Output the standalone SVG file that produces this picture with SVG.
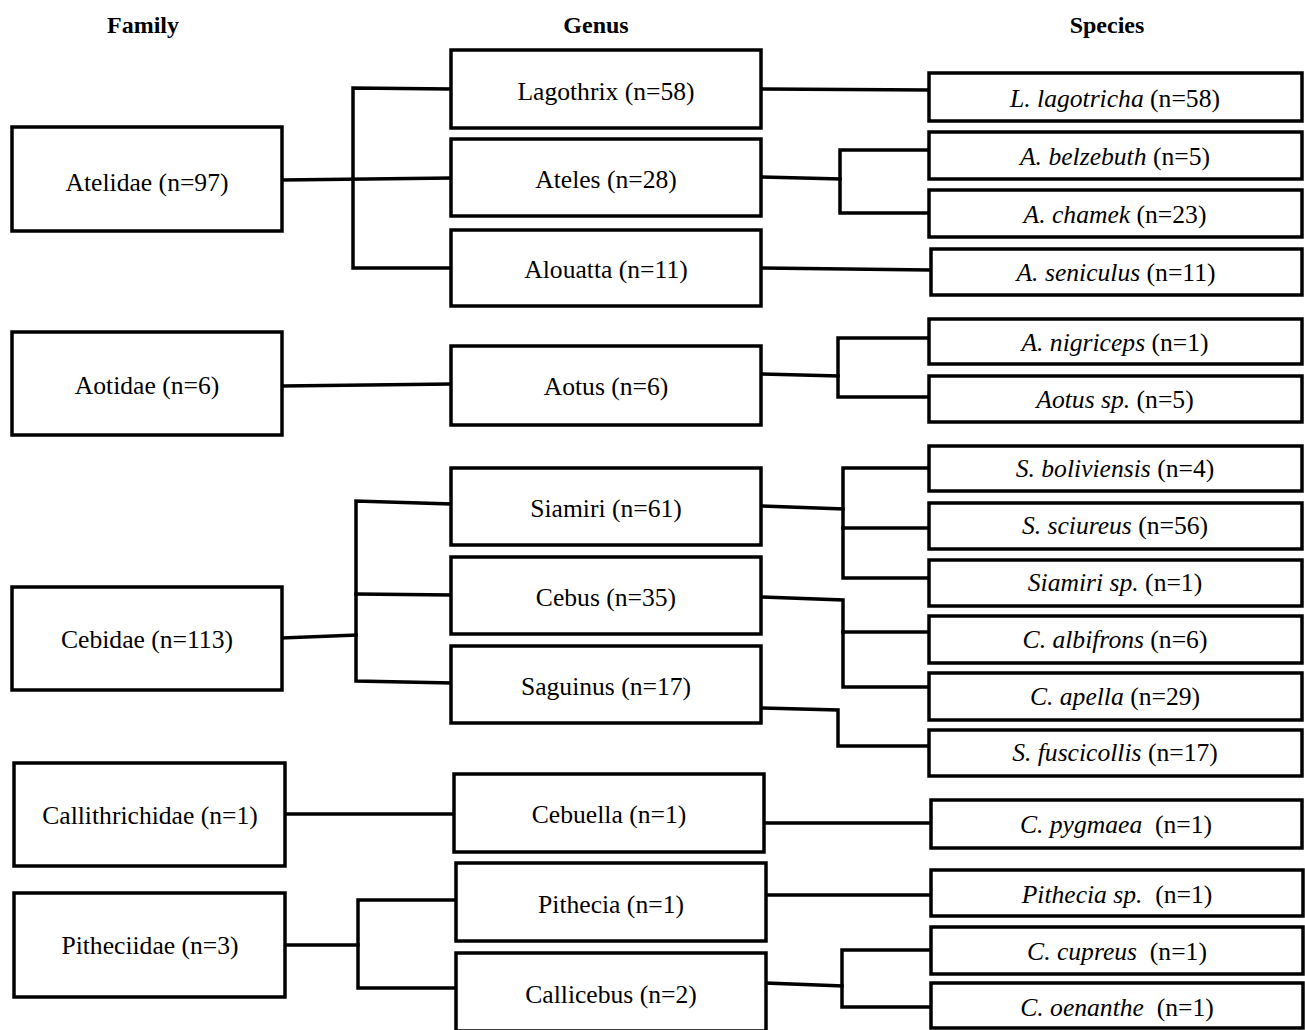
<svg xmlns="http://www.w3.org/2000/svg" width="1305" height="1030" viewBox="0 0 1305 1030">
<style>
.box{fill:#fff;stroke:#000;stroke-width:3.5}
.t{font-family:"Liberation Serif","Times New Roman",serif;font-size:25.6px;fill:#000;text-anchor:middle;white-space:pre}
.h{font-family:"Liberation Serif","Times New Roman",serif;font-size:24px;font-weight:bold;fill:#000;text-anchor:middle}
.i{font-style:italic}
.c{fill:none;stroke:#000;stroke-width:3.5;stroke-linejoin:miter;stroke-linecap:square}
</style>
<rect width="1305" height="1030" fill="#fff"/>
<g id="headers">
<text class="h" x="143" y="33">Family</text>
<text class="h" x="596" y="33">Genus</text>
<text class="h" x="1107" y="33">Species</text>
</g>
<g id="connectors">
<path class="c" d="M282,180 L451,178"/>
<path class="c" d="M451,89 L353,88 L353,268 L451,268"/>
<path class="c" d="M761,89 L929,90"/>
<path class="c" d="M761,177 L840,179"/>
<path class="c" d="M929,150 L840,150 L840,213 L929,213"/>
<path class="c" d="M761,268 L929,270"/>
<path class="c" d="M282,386 L451,384"/>
<path class="c" d="M761,374 L838,376"/>
<path class="c" d="M929,338 L838,338 L838,397 L929,397"/>
<path class="c" d="M282,638 L356,635"/>
<path class="c" d="M451,504 L356,501 L356,681 L451,683"/>
<path class="c" d="M356,594 L451,595"/>
<path class="c" d="M761,506 L843,509"/>
<path class="c" d="M929,468 L843,468 L843,578 L929,578"/>
<path class="c" d="M843,528 L929,528"/>
<path class="c" d="M761,597 L843,600 L843,687 L929,687"/>
<path class="c" d="M843,632 L929,632"/>
<path class="c" d="M761,708 L838,710 L838,746 L929,746"/>
<path class="c" d="M285,814 L454,814"/>
<path class="c" d="M764,823 L931,823"/>
<path class="c" d="M285,945 L358,945"/>
<path class="c" d="M456,900 L358,900 L358,988 L456,988"/>
<path class="c" d="M766,895 L931,895"/>
<path class="c" d="M766,983 L842,986"/>
<path class="c" d="M931,950 L842,950 L842,1007 L931,1007"/>
</g>
<g id="fam-atelidae"><rect class="box" x="12" y="127" width="270" height="104"/><text class="t" x="147" y="191">Atelidae (n=97)</text></g>
<g id="fam-aotidae"><rect class="box" x="12" y="332" width="270" height="103"/><text class="t" x="147" y="394">Aotidae (n=6)</text></g>
<g id="fam-cebidae"><rect class="box" x="12" y="587" width="270" height="103"/><text class="t" x="147" y="648">Cebidae (n=113)</text></g>
<g id="fam-callithrichidae"><rect class="box" x="14" y="763" width="271" height="103"/><text class="t" x="150" y="824">Callithrichidae (n=1)</text></g>
<g id="fam-pitheciidae"><rect class="box" x="14" y="893" width="271" height="104"/><text class="t" x="150" y="954">Pitheciidae (n=3)</text></g>

<g id="gen-lagothrix"><rect class="box" x="451" y="50" width="310" height="78"/><text class="t" x="606" y="100">Lagothrix (n=58)</text></g>
<g id="gen-ateles"><rect class="box" x="451" y="139" width="310" height="77"/><text class="t" x="606" y="188">Ateles (n=28)</text></g>
<g id="gen-alouatta"><rect class="box" x="451" y="230" width="310" height="76"/><text class="t" x="606" y="278">Alouatta (n=11)</text></g>
<g id="gen-aotus"><rect class="box" x="451" y="346" width="310" height="79"/><text class="t" x="606" y="395">Aotus (n=6)</text></g>
<g id="gen-siamiri"><rect class="box" x="451" y="468" width="310" height="77"/><text class="t" x="606" y="517">Siamiri (n=61)</text></g>
<g id="gen-cebus"><rect class="box" x="451" y="557" width="310" height="77"/><text class="t" x="606" y="606">Cebus (n=35)</text></g>
<g id="gen-saguinus"><rect class="box" x="451" y="646" width="310" height="77"/><text class="t" x="606" y="695">Saguinus (n=17)</text></g>
<g id="gen-cebuella"><rect class="box" x="454" y="774" width="310" height="78"/><text class="t" x="609" y="823">Cebuella (n=1)</text></g>
<g id="gen-pithecia"><rect class="box" x="456" y="863" width="310" height="78"/><text class="t" x="611" y="913">Pithecia (n=1)</text></g>
<g id="gen-callicebus"><rect class="box" x="456" y="953" width="310" height="78"/><text class="t" x="611" y="1003">Callicebus (n=2)</text></g>

<g id="sp-lagotricha"><rect class="box" x="929" y="73" width="373" height="48"/><text class="t" x="1115" y="107"><tspan class="i">L. lagotricha</tspan> (n=58)</text></g>
<g id="sp-belzebuth"><rect class="box" x="929" y="132" width="373" height="47"/><text class="t" x="1115" y="165"><tspan class="i">A. belzebuth</tspan> (n=5)</text></g>
<g id="sp-chamek"><rect class="box" x="929" y="190" width="373" height="47"/><text class="t" x="1115" y="223"><tspan class="i">A. chamek</tspan> (n=23)</text></g>
<g id="sp-seniculus"><rect class="box" x="931" y="249" width="371" height="46"/><text class="t" x="1116" y="281"><tspan class="i">A. seniculus</tspan> (n=11)</text></g>
<g id="sp-nigriceps"><rect class="box" x="929" y="319" width="373" height="45"/><text class="t" x="1115" y="351"><tspan class="i">A. nigriceps</tspan> (n=1)</text></g>
<g id="sp-aotussp"><rect class="box" x="929" y="376" width="373" height="46"/><text class="t" x="1115" y="408"><tspan class="i">Aotus sp.</tspan> (n=5)</text></g>
<g id="sp-boliviensis"><rect class="box" x="929" y="446" width="373" height="45"/><text class="t" x="1115" y="477"><tspan class="i">S. boliviensis</tspan> (n=4)</text></g>
<g id="sp-sciureus"><rect class="box" x="929" y="503" width="373" height="46"/><text class="t" x="1115" y="534"><tspan class="i">S. sciureus</tspan> (n=56)</text></g>
<g id="sp-siamirisp"><rect class="box" x="929" y="560" width="373" height="46"/><text class="t" x="1115" y="591"><tspan class="i">Siamiri sp.</tspan> (n=1)</text></g>
<g id="sp-albifrons"><rect class="box" x="929" y="616" width="373" height="47"/><text class="t" x="1115" y="648"><tspan class="i">C. albifrons</tspan> (n=6)</text></g>
<g id="sp-apella"><rect class="box" x="929" y="673" width="373" height="47"/><text class="t" x="1115" y="705"><tspan class="i">C. apella</tspan> (n=29)</text></g>
<g id="sp-fuscicollis"><rect class="box" x="929" y="730" width="373" height="46"/><text class="t" x="1115" y="761"><tspan class="i">S. fuscicollis</tspan> (n=17)</text></g>
<g id="sp-pygmaea"><rect class="box" x="931" y="800" width="371" height="48"/><text class="t" x="1116" y="833"><tspan class="i">C. pygmaea</tspan>  (n=1)</text></g>
<g id="sp-pitheciasp"><rect class="box" x="931" y="870" width="372" height="46"/><text class="t" x="1117" y="903"><tspan class="i">Pithecia sp.</tspan>  (n=1)</text></g>
<g id="sp-cupreus"><rect class="box" x="931" y="927" width="372" height="47"/><text class="t" x="1117" y="960"><tspan class="i">C. cupreus</tspan>  (n=1)</text></g>
<g id="sp-oenanthe"><rect class="box" x="931" y="983" width="372" height="45"/><text class="t" x="1117" y="1016"><tspan class="i">C. oenanthe</tspan>  (n=1)</text></g>
</svg>
